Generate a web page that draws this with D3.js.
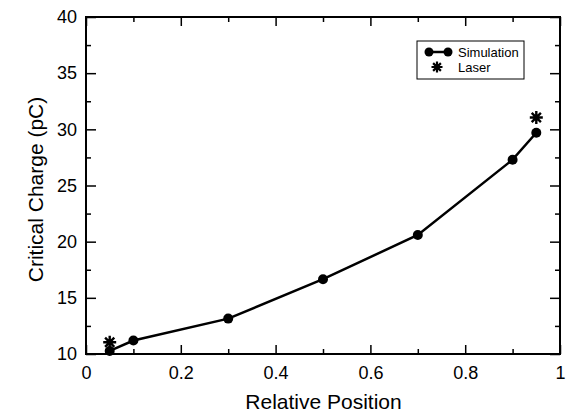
<!DOCTYPE html>
<html>
<head>
<meta charset="utf-8">
<script src="https://cdn.jsdelivr.net/npm/d3@7"></script>
<style>
  body { margin: 0; background: #fff; }
  text { font-family: "Liberation Sans", Arial, sans-serif; fill: #000; }
</style>
</head>
<body>
<div id="chart"></div>
<script>
// Data
var simX = [0.05, 0.1, 0.3, 0.5, 0.7, 0.9, 0.95];
var simY = [10.27, 11.2, 13.15, 16.66, 20.6, 27.3, 29.7];
var laserX = [0.05, 0.95];
var laserY = [11.05, 31.05];
var xTicks = [0, 0.2, 0.4, 0.6, 0.8, 1];
var yTicks = [10, 15, 20, 25, 30, 35, 40];

var W = 567, H = 413;
var margin = { top: 17, right: 7, bottom: 59, left: 86 },
    width  = W - margin.left - margin.right,
    height = H - margin.top - margin.bottom;

var svg = d3.select("#chart").append("svg")
    .attr("width", W)
    .attr("height", H);

var g = svg.append("g")
    .attr("transform", "translate(" + margin.left + "," + margin.top + ")");

var x = d3.scaleLinear().domain([0, 1]).range([0, width]);
var y = d3.scaleLinear().domain([10, 40]).range([height, 0]);

// minor ticks halfway between majors
var xMinor = d3.range(0.1, 1, 0.2);
var yMinor = d3.range(12.5, 40, 5);

function styleAxis(sel) {
  sel.select(".domain").remove();
  sel.selectAll("line").attr("stroke", "#000").attr("stroke-width", 1.5);
}

// bottom axis (ticks pointing inward)
g.append("g")
  .attr("transform", "translate(0," + height + ")")
  .call(d3.axisBottom(x).tickValues(xTicks).tickSizeInner(-9).tickSizeOuter(0)
        .tickPadding(12).tickFormat(function(d) { return d === 0 || d === 1 ? d : d3.format(".1f")(d); }))
  .call(styleAxis)
  .selectAll("text").style("font-size", "18px");
g.append("g")
  .attr("transform", "translate(0," + height + ")")
  .call(d3.axisBottom(x).tickValues(xMinor).tickSize(-5).tickFormat(""))
  .call(styleAxis);

// top axis
g.append("g")
  .call(d3.axisTop(x).tickValues(xTicks).tickSize(-9).tickFormat(""))
  .call(styleAxis);
g.append("g")
  .call(d3.axisTop(x).tickValues(xMinor).tickSize(-5).tickFormat(""))
  .call(styleAxis);

// left axis
g.append("g")
  .call(d3.axisLeft(y).tickValues(yTicks).tickSizeInner(-10).tickSizeOuter(0).tickPadding(9))
  .call(styleAxis)
  .selectAll("text").style("font-size", "18px");
g.append("g")
  .call(d3.axisLeft(y).tickValues(yMinor).tickSize(-5).tickFormat(""))
  .call(styleAxis);

// right axis
g.append("g")
  .attr("transform", "translate(" + width + ",0)")
  .call(d3.axisRight(y).tickValues(yTicks).tickSize(-10).tickFormat(""))
  .call(styleAxis);
g.append("g")
  .attr("transform", "translate(" + width + ",0)")
  .call(d3.axisRight(y).tickValues(yMinor).tickSize(-5).tickFormat(""))
  .call(styleAxis);

// frame
g.append("rect")
  .attr("width", width).attr("height", height)
  .attr("fill", "none").attr("stroke", "#000").attr("stroke-width", 2);

// axis titles
g.append("text")
  .attr("x", width / 2 + 0.5).attr("y", height + 55)
  .attr("text-anchor", "middle")
  .style("font-size", "21px")
  .text("Relative Position");

g.append("text")
  .attr("transform", "translate(-43," + (height / 2 + 4) + ") rotate(-90)")
  .attr("text-anchor", "middle")
  .style("font-size", "21px")
  .text("Critical Charge (pC)");

// simulation line + dots
var sim = simX.map(function(d, i) { return [d, simY[i]]; });
var line = d3.line()
  .x(function(d) { return x(d[0]); })
  .y(function(d) { return y(d[1]); });

g.append("path")
  .datum(sim)
  .attr("d", line)
  .attr("fill", "none")
  .attr("stroke", "#000")
  .attr("stroke-width", 2.5);

g.selectAll(".dot")
  .data(sim)
  .enter().append("circle")
  .attr("class", "dot")
  .attr("cx", function(d) { return x(d[0]); })
  .attr("cy", function(d) { return y(d[1]); })
  .attr("r", 5)
  .attr("fill", "#000");

// asterisk marker
function star(cx, cy, r) {
  var p = "";
  for (var k = 0; k < 4; k++) {
    var a = k * Math.PI / 4 + Math.PI / 2;
    var dx = r * Math.cos(a), dy = r * Math.sin(a);
    p += "M" + (cx - dx) + "," + (cy - dy) + "L" + (cx + dx) + "," + (cy + dy);
  }
  return p;
}

var laser = laserX.map(function(d, i) { return [d, laserY[i]]; });
g.selectAll(".star")
  .data(laser)
  .enter().append("path")
  .attr("class", "star")
  .attr("d", function(d) { return star(x(d[0]), y(d[1]), 6.5); })
  .attr("stroke", "#000")
  .attr("stroke-width", 2.4)
  .attr("fill", "none");

// legend
var lg = svg.append("g").attr("transform", "translate(417,41)");
lg.append("rect")
  .attr("width", 107).attr("height", 38)
  .attr("fill", "#fff").attr("stroke", "#000").attr("stroke-width", 1);
lg.append("line")
  .attr("x1", 12).attr("x2", 31).attr("y1", 11).attr("y2", 11)
  .attr("stroke", "#000").attr("stroke-width", 2.5);
lg.selectAll(".ldot").data([12, 31]).enter().append("circle")
  .attr("cx", function(d) { return d; }).attr("cy", 11).attr("r", 4.5).attr("fill", "#000");
lg.append("path")
  .attr("d", star(20, 26, 5.5))
  .attr("stroke", "#000").attr("stroke-width", 2.2).attr("fill", "none");
lg.append("text").attr("x", 41).attr("y", 16).style("font-size", "13px").text("Simulation");
lg.append("text").attr("x", 41).attr("y", 31).style("font-size", "13px").text("Laser");
</script>
</body>
</html>
